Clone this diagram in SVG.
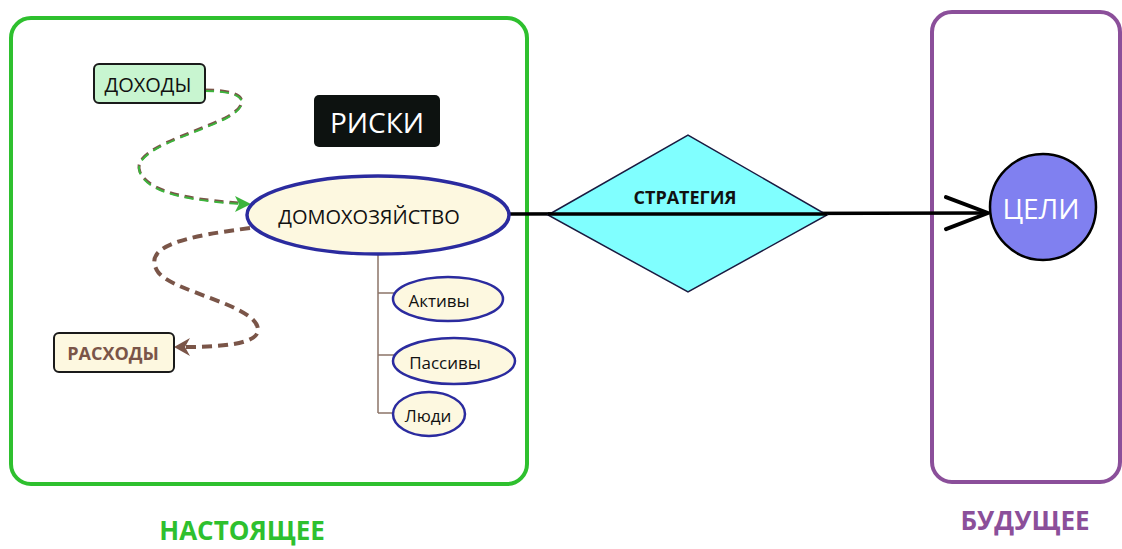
<svg xmlns="http://www.w3.org/2000/svg" width="1122" height="549" viewBox="0 0 1122 549">
<defs>
<style>
text{font-family:"Open Sans","Noto Sans","Liberation Sans",sans-serif;text-anchor:middle;dominant-baseline:central}
.sub{fill:#fdf8e0;stroke:#2b2b9f;stroke-width:2.5}
.branch{fill:none;stroke:#8c7468;stroke-width:1.5}
</style>
<marker id="vhead" markerUnits="userSpaceOnUse" markerWidth="50" markerHeight="40" refX="44" refY="18" orient="auto">
<path d="M2,2 L44,18 L2,34" fill="none" stroke="#000" stroke-width="4" stroke-linecap="round" stroke-linejoin="round"/>
</marker>
</defs>
<rect width="1122" height="549" fill="#fff"/>
<g id="present">
<rect x="11" y="18" width="516" height="466" rx="20" fill="none" stroke="#2ec02e" stroke-width="4"/>
<text x="242" y="530" font-size="26" font-weight="bold" fill="#2ec02e">НАСТОЯЩЕЕ</text>
</g>
<g id="future">
<rect x="932" y="12" width="188" height="470" rx="20" fill="none" stroke="#8b4f9a" stroke-width="4"/>
<text x="1025" y="520" font-size="26" font-weight="bold" fill="#8b4f9a">БУДУЩЕЕ</text>
</g>
<g id="connectors">
<path d="M205,90 C250,90 250,105 225,118 C190,135 130,150 140,172 C150,195 200,200 240,203" fill="none" stroke="#7a5548" stroke-width="3" stroke-dasharray="9 6"/>
<path d="M205,90 C250,90 250,105 225,118 C190,135 130,150 140,172 C150,195 200,200 240,203" fill="none" stroke="#3cb43c" stroke-width="2" stroke-dasharray="9 6" transform="translate(0,1)"/>
<path d="M235,196 L251,204 L235,212 L239,204 Z" fill="#3cb43c"/>
<path d="M250,228 C190,236 140,245 158,272 C172,292 258,305 258,330 C258,345 215,347 185,347" fill="none" stroke="#7a5548" stroke-width="4" stroke-dasharray="10 6"/>
<path d="M190,338 L174,347 L190,356 L185,347 Z" fill="#7a5548"/>
<path class="branch" d="M378,255 V413 M378,293 H394 M378,355 H394 M378,413 H394"/>
<line x1="510" y1="214" x2="988" y2="213" stroke="#000" stroke-width="3.5" marker-end="url(#vhead)"/>
</g>
<g id="income">
<rect x="94" y="64" width="111" height="39" rx="5" fill="#c8f5d0" stroke="#1a1a1a" stroke-width="2"/>
<text x="148" y="84" font-size="20" fill="#111">ДОХОДЫ</text>
</g>
<g id="risks">
<rect x="314" y="95" width="126" height="52" rx="5" fill="#0d1210"/>
<text x="377" y="122" font-size="28" fill="#fff">РИСКИ</text>
</g>
<g id="household">
<ellipse cx="378" cy="215" rx="131" ry="39" fill="#fdf8e0" stroke="#2b2b9f" stroke-width="3.5"/>
<text x="369" y="216" font-size="20" fill="#111">ДОМОХОЗЯЙСТВО</text>
</g>
<g id="expenses">
<rect x="54" y="333" width="120" height="39" rx="5" fill="#fdf8e0" stroke="#1a1a1a" stroke-width="2"/>
<text x="113" y="353" font-size="18" font-weight="bold" fill="#7a5548">РАСХОДЫ</text>
</g>
<g id="assets">
<ellipse cx="448" cy="299" rx="55" ry="22" class="sub"/>
<text x="439" y="300" font-size="17" fill="#111">Активы</text>
</g>
<g id="liabilities">
<ellipse cx="454" cy="361" rx="61" ry="23" class="sub"/>
<text x="445" y="362" font-size="17" fill="#111">Пассивы</text>
</g>
<g id="people">
<ellipse cx="429" cy="414" rx="36" ry="22" class="sub"/>
<text x="428" y="415" font-size="17" fill="#111">Люди</text>
</g>
<g id="strategy">
<polygon points="548,215 688,135 827,215 688,292" fill="#80ffff" stroke="#1a1a40" stroke-width="1.5"/>
<line x1="548" y1="214" x2="827" y2="214" stroke="#000" stroke-width="3.5"/>
<text x="685" y="197" font-size="18" font-weight="bold" fill="#111">СТРАТЕГИЯ</text>
</g>
<g id="goals">
<circle cx="1043" cy="207" r="53" fill="#8080f0" stroke="#000" stroke-width="2.5"/>
<text x="1041" y="208" font-size="28" fill="#fff">ЦЕЛИ</text>
</g>
</svg>
